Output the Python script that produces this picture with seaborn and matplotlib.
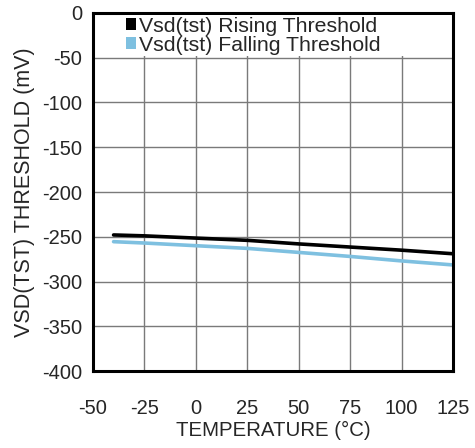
import numpy as np
import pandas as pd
import matplotlib
matplotlib.use("Agg")
import matplotlib.pyplot as plt
import seaborn as sns

temperature = [-40, -25, 0, 25, 50, 75, 100, 125]
rising = [-248, -249, -251.5, -254, -258, -261.5, -265, -269]
falling = [-255.5, -257, -260, -263, -267.5, -272, -277, -281.5]
series_names = ["Vsd(tst) Rising Threshold", "Vsd(tst) Falling Threshold"]
x_ticks = [-50, -25, 0, 25, 50, 75, 100, 125]
y_ticks = [0, -50, -100, -150, -200, -250, -300, -350, -400]

df = pd.DataFrame({
    "T": temperature * 2,
    "V": rising + falling,
    "S": [series_names[0]] * len(temperature) + [series_names[1]] * len(temperature),
})

sns.set_style("white")
plt.rcParams["font.family"] = ["Liberation Sans", "DejaVu Sans"]

fig = plt.figure(figsize=(4.75, 4.48), dpi=100)
ax = fig.add_axes([93 / 475, 1 - 371 / 448, 360 / 475, 358 / 448])

palette = {series_names[0]: "#000000", series_names[1]: "#7EC0E0"}
sns.lineplot(data=df, x="T", y="V", hue="S", palette=palette, lw=2.6, ax=ax, legend=False)

ax.set_xlim(-50, 125)
ax.set_ylim(-400, 0)
ax.set_xticks(x_ticks)
ax.set_yticks(y_ticks)
ax.set_xticklabels([str(t) for t in x_ticks])
ax.set_yticklabels([str(t) for t in y_ticks])
ax.grid(True, color="#7a7a7a", lw=1.0)
ax.set_axisbelow(True)
for s in ax.spines.values():
    s.set_visible(True)
    s.set_color("black")
    s.set_linewidth(2.2)
ax.tick_params(axis="x", length=0, pad=20, labelsize=14.5)
ax.tick_params(axis="y", length=0, pad=8, labelsize=14.5)
ax.set_xlabel("TEMPERATURE (°C)", fontsize=14.7, labelpad=2)
ax.set_ylabel("VSD(TST) THRESHOLD (mV)", fontsize=15.5, labelpad=5)

from matplotlib.patches import Patch
handles = [Patch(facecolor=palette[n], edgecolor="none") for n in series_names]
leg = ax.legend(handles, series_names, loc="center", mode="expand",
                bbox_to_anchor=((125 - 93) / 360, 0.878, (451 - 125) / 360, 0.118),
                borderaxespad=0, borderpad=0.05, handlelength=0.45, handleheight=0.45,
                handletextpad=0.15, labelspacing=0.0, fontsize=15.3,
                frameon=True, fancybox=False, framealpha=1)
leg.get_frame().set_facecolor("white")
leg.get_frame().set_edgecolor("none")

fig.savefig("out.png", dpi=100)
